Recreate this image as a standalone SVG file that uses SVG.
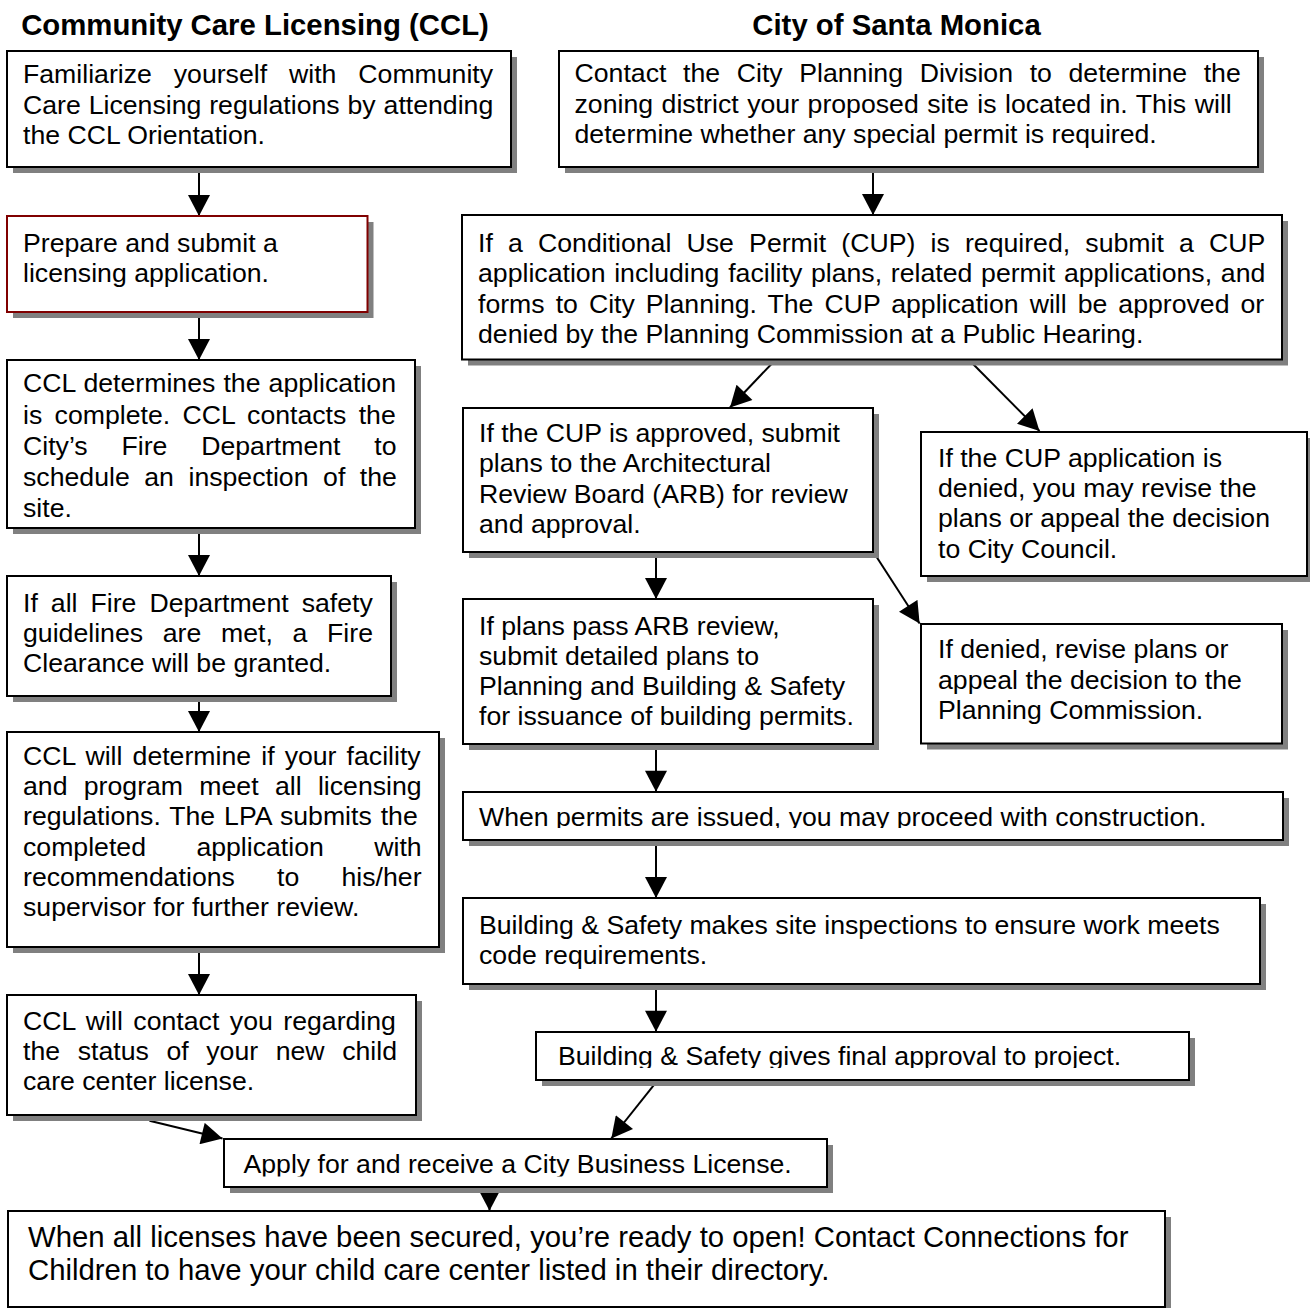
<svg xmlns="http://www.w3.org/2000/svg" width="1310" height="1308" viewBox="0 0 1310 1308">
<style>
.bg{fill:#fff}
.sh{fill:#808080}
.box{fill:#fff;stroke:#000;stroke-width:2}
.red{stroke:#800000}
.t{font-family:"Liberation Sans",Arial,sans-serif;font-size:26.67px;fill:#000}
.big{font-size:29.33px}
.title{font-family:"Liberation Sans",Arial,sans-serif;font-size:29.33px;font-weight:bold;fill:#000;text-anchor:middle}
.c{stroke:#000;stroke-width:2;fill:none;marker-end:url(#ah)}
</style>
<defs>
<marker id="ah" markerUnits="userSpaceOnUse" markerWidth="22" markerHeight="22" viewBox="0 0 21 22" refX="21" refY="11" orient="auto">
<path d="M0,0 L21,11 L0,22 z" fill="#000"/>
</marker>
<clipPath id="clipR7"><rect x="460" y="780" width="830" height="48"/></clipPath>
<clipPath id="clipR9"><rect x="530" y="1020" width="670" height="48"/></clipPath>
<clipPath id="clipR10"><rect x="220" y="1130" width="620" height="46.5"/></clipPath>
</defs>
<rect class="bg" x="0" y="0" width="1310" height="1308"/>
<g id="titles">
<text class="title" x="255" y="35">Community Care Licensing (CCL)</text>
<text class="title" x="896.5" y="35">City of Santa Monica</text>
</g>
<g id="connectors">
<line class="c" x1="199" y1="167" x2="199" y2="216"/>
<line class="c" x1="199" y1="312" x2="199" y2="360"/>
<line class="c" x1="199" y1="528" x2="199" y2="576"/>
<line class="c" x1="199" y1="696" x2="199" y2="732"/>
<line class="c" x1="199" y1="947" x2="199" y2="995"/>
<line class="c" x1="149.5" y1="1120.7" x2="222.5" y2="1138.5"/>
<line class="c" x1="873" y1="167" x2="873" y2="215"/>
<line class="c" x1="774.6" y1="360.7" x2="730" y2="407.5"/>
<line class="c" x1="969.8" y1="360.7" x2="1039.5" y2="431"/>
<line class="c" x1="656" y1="552" x2="656" y2="599"/>
<line class="c" x1="873.4" y1="552" x2="919.6" y2="623.5"/>
<line class="c" x1="656" y1="744" x2="656" y2="791.7"/>
<line class="c" x1="656" y1="840" x2="656" y2="898"/>
<line class="c" x1="656" y1="984" x2="656" y2="1031.7"/>
<line class="c" x1="657.4" y1="1080.7" x2="611.3" y2="1138.5"/>
<line class="c" x1="489.5" y1="1186.7" x2="489.5" y2="1210.7"/>
</g>
<g id="B1">
<rect class="sh" x="13" y="57" width="504" height="116"/>
<rect class="box" x="7" y="51" width="504" height="116"/>
<text class="t" x="23" y="83" word-spacing="14.5">Familiarize yourself with Community</text>
<text class="t" x="23" y="113.5" word-spacing="0.5">Care Licensing regulations by attending</text>
<text class="t" x="23" y="144">the CCL Orientation.</text>
</g>
<g id="B2">
<rect class="sh" x="13" y="222" width="360.5" height="96"/>
<rect class="box red" x="7" y="216" width="360.5" height="96"/>
<text class="t" x="23" y="251.7">Prepare and submit a</text>
<text class="t" x="23" y="281.7">licensing application.</text>
</g>
<g id="B3">
<rect class="sh" x="13" y="366" width="408" height="168"/>
<rect class="box" x="7" y="360" width="408" height="168"/>
<text class="t" x="23" y="392" word-spacing="0.7">CCL determines the application</text>
<text class="t" x="23" y="423.5" word-spacing="4.9">is complete. CCL contacts the</text>
<text class="t" x="23" y="455" word-spacing="26.4">City’s Fire Department to</text>
<text class="t" x="23" y="486" word-spacing="7.15">schedule an inspection of the</text>
<text class="t" x="23" y="517">site.</text>
</g>
<g id="B4">
<rect class="sh" x="13" y="582" width="384" height="120"/>
<rect class="box" x="7" y="576" width="384" height="120"/>
<text class="t" x="23" y="611.7" word-spacing="5.6">If all Fire Department safety</text>
<text class="t" x="23" y="641.7" word-spacing="12.3">guidelines are met, a Fire</text>
<text class="t" x="23" y="671.7">Clearance will be granted.</text>
</g>
<g id="B5">
<rect class="sh" x="13" y="738" width="432" height="215"/>
<rect class="box" x="7" y="732" width="432" height="215"/>
<text class="t" x="23" y="765" word-spacing="2.7">CCL will determine if your facility</text>
<text class="t" x="23" y="795" word-spacing="8.9">and program meet all licensing</text>
<text class="t" x="23" y="825" word-spacing="1.5">regulations. The LPA submits the</text>
<text class="t" x="23" y="855.5" word-spacing="43">completed application with</text>
<text class="t" x="23" y="886" word-spacing="34.8">recommendations to his/her</text>
<text class="t" x="23" y="916">supervisor for further review.</text>
</g>
<g id="B6">
<rect class="sh" x="13" y="1001" width="409" height="120"/>
<rect class="box" x="7" y="995" width="409" height="120"/>
<text class="t" x="23" y="1030" word-spacing="3.1">CCL will contact you regarding</text>
<text class="t" x="23" y="1060" word-spacing="10.2">the status of your new child</text>
<text class="t" x="23" y="1090">care center license.</text>
</g>
<g id="R1">
<rect class="sh" x="565" y="57" width="699" height="116"/>
<rect class="box" x="559" y="51" width="699" height="116"/>
<text class="t" x="574.5" y="81.7" word-spacing="9.24">Contact the City Planning Division to determine the</text>
<text class="t" x="574.5" y="113" word-spacing="1.14">zoning district your proposed site is located in. This will</text>
<text class="t" x="574.5" y="143.3">determine whether any special permit is required.</text>
</g>
<g id="R2">
<rect class="sh" x="468" y="221" width="820" height="144.5"/>
<rect class="box" x="462" y="215" width="820" height="144.5"/>
<text class="t" x="478" y="252" word-spacing="7.77">If a Conditional Use Permit (CUP) is required, submit a CUP</text>
<text class="t" x="478" y="282" word-spacing="1.34">application including facility plans, related permit applications, and</text>
<text class="t" x="478" y="312.5" word-spacing="3.6">forms to City Planning. The CUP application will be approved or</text>
<text class="t" x="478" y="343">denied by the Planning Commission at a Public Hearing.</text>
</g>
<g id="R3">
<rect class="sh" x="469" y="414" width="410" height="144"/>
<rect class="box" x="463" y="408" width="410" height="144"/>
<text class="t" x="479" y="441.7">If the CUP is approved, submit</text>
<text class="t" x="479" y="471.7">plans to the Architectural</text>
<text class="t" x="479" y="503">Review Board (ARB) for review</text>
<text class="t" x="479" y="533.3">and approval.</text>
</g>
<g id="R4">
<rect class="sh" x="927" y="438" width="386" height="144"/>
<rect class="box" x="921" y="432" width="386" height="144"/>
<text class="t" x="938" y="466.7">If the CUP application is</text>
<text class="t" x="938" y="496.7">denied, you may revise the</text>
<text class="t" x="938" y="526.7">plans or appeal the decision</text>
<text class="t" x="938" y="558">to City Council.</text>
</g>
<g id="R5">
<rect class="sh" x="469" y="605" width="410" height="145"/>
<rect class="box" x="463" y="599" width="410" height="145"/>
<text class="t" x="479" y="635">If plans pass ARB review,</text>
<text class="t" x="479" y="665">submit detailed plans to</text>
<text class="t" x="479" y="695">Planning and Building &amp; Safety</text>
<text class="t" x="479" y="725">for issuance of building permits.</text>
</g>
<g id="R6">
<rect class="sh" x="927" y="630" width="361" height="119.5"/>
<rect class="box" x="921" y="624" width="361" height="119.5"/>
<text class="t" x="938" y="658.3">If denied, revise plans or</text>
<text class="t" x="938" y="688.8">appeal the decision to the</text>
<text class="t" x="938" y="719">Planning Commission.</text>
</g>
<g id="R7">
<rect class="sh" x="469" y="798" width="820" height="48"/>
<rect class="box" x="463" y="792" width="820" height="48"/>
<text class="t" x="479" y="825.5" clip-path="url(#clipR7)">When permits are issued, you may proceed with construction.</text>
</g>
<g id="R8">
<rect class="sh" x="469" y="904" width="797" height="86"/>
<rect class="box" x="463" y="898" width="797" height="86"/>
<text class="t" x="479" y="934">Building &amp; Safety makes site inspections to ensure work meets</text>
<text class="t" x="479" y="963.5">code requirements.</text>
</g>
<g id="R9">
<rect class="sh" x="542" y="1038" width="653" height="48"/>
<rect class="box" x="536" y="1032" width="653" height="48"/>
<text class="t" x="558" y="1065" clip-path="url(#clipR9)">Building &amp; Safety gives final approval to project.</text>
</g>
<g id="R10">
<rect class="sh" x="230" y="1145" width="603" height="48"/>
<rect class="box" x="224" y="1139" width="603" height="48"/>
<text class="t" x="243.5" y="1173.3" clip-path="url(#clipR10)">Apply for and receive a City Business License.</text>
</g>
<g id="R11">
<rect class="sh" x="14" y="1217" width="1157" height="96"/>
<rect class="box" x="8" y="1211" width="1157" height="96"/>
<text class="t big" x="28" y="1246.7">When all licenses have been secured, you’re ready to open! Contact Connections for</text>
<text class="t big" x="28" y="1280">Children to have your child care center listed in their directory.</text>
</g>
</svg>
